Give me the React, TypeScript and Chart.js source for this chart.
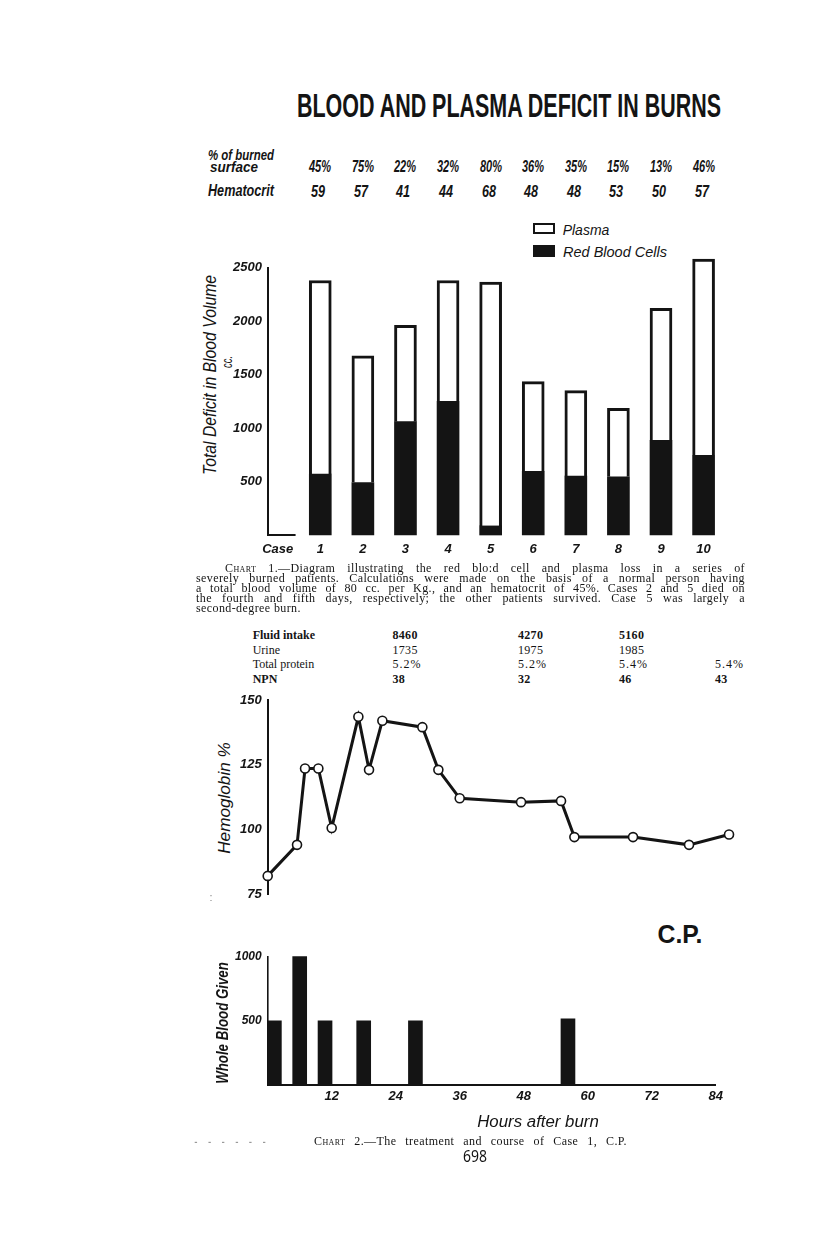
import React, { useEffect, useRef } from "react";
import { Chart, registerables } from "chart.js";
Chart.register(...registerables);

// ---------------- data ----------------
const caseLabels = ["Case", "1", "2", "3", "4", "5", "6", "7", "8", "9", "10"];
const burnedSurface = ["45%", "75%", "22%", "32%", "80%", "36%", "35%", "15%", "13%", "46%"];
const hematocrit = ["59", "57", "41", "44", "68", "48", "48", "53", "50", "57"];
const redCellDeficit = [570, 490, 1060, 1250, 85, 595, 550, 545, 885, 745];
const plasmaDeficit = [1810, 1185, 900, 1130, 2280, 840, 800, 640, 1235, 1835];
const deficitTicks = [500, 1000, 1500, 2000, 2500];

const hbHours = [0, 5.5, 7, 9.5, 12, 17, 19, 21.5, 29, 32, 36, 47.5, 55, 57.5, 68.5, 79, 86.5];
const hbValues = [82, 94, 123.5, 123.5, 100.5, 143.5, 123, 142, 139.5, 123, 112, 110.5, 111, 97, 97, 94, 98];
const hbTicks = [75, 100, 125, 150];

const bloodHours = [1.25, 6, 10.75, 18, 27.7, 56.3];
const bloodGiven = [500, 1000, 500, 500, 500, 515];
const bloodTicks = [500, 1000];
const hourTicks = [12, 24, 36, 48, 60, 72, 84];

const tableLabels = ["Fluid intake", "Urine", "Total protein", "NPN"];
const fluidIntake = ["8460", "4270", "5160", ""];
const urine = ["1735", "1975", "1985", ""];
const totalProtein = ["5.2%", "5.2%", "5.4%", "5.4%"];
const npn = ["38", "32", "46", "43"];

const captionLines = [
  "Diagram illustrating the red blo:d cell and plasma loss in a series of",
  "severely burned patients. Calculations were made on the basis of a normal person having",
  "a total blood volume of 80 cc. per Kg., and an hematocrit of 45%. Cases 2 and 5 died on",
  "the fourth and fifth days, respectively; the other patients survived. Case 5 was largely a",
  "second-degree burn.",
];

// ---------------- style ----------------
const INK = "#141414";
const LETTER = "'Liberation Sans', Arial, sans-serif";
const SERIF = "'Liberation Serif', 'Times New Roman', serif";
const tickFont = { family: LETTER, size: 13, style: "italic" as const, weight: "bold" as const };

// chart 1 horizontal layout (case index -> px), shared with header text
const CASE_MIN = -0.23;
const CASE_MAX = 10.35;
const C1_LEFT = 190, C1_TOP = 215, C1_W = 540, C1_H = 350;
const C1_AREA_L = 267.9, C1_AREA_R = 718.5;
const caseX = (i: number) => C1_AREA_L + ((i - CASE_MIN) / (CASE_MAX - CASE_MIN)) * (C1_AREA_R - C1_AREA_L);

let measureCtx: CanvasRenderingContext2D | null = null;
function measure(text: string, font: string) {
  if (!measureCtx) measureCtx = document.createElement("canvas").getContext("2d");
  measureCtx!.font = font;
  return measureCtx!.measureText(text).width || 1;
}

function FitText(props: { text: string; cx: number; cy: number; width: number; font: string; rotate?: number; color?: string }) {
  const { text, cx, cy, width, font, rotate = 0, color = INK } = props;
  const s = width / measure(text, font);
  return (
    <div
      style={{
        position: "absolute",
        left: cx,
        top: cy,
        font,
        lineHeight: 1,
        color,
        whiteSpace: "nowrap",
        transform: `translate(-50%, -50%) rotate(${rotate}deg) scaleX(${s})`,
      }}
    >
      {text}
    </div>
  );
}

function ChartBox(props: { left: number; top: number; width: number; height: number; make: () => any }) {
  const ref = useRef<HTMLCanvasElement>(null);
  useEffect(() => {
    const chart = new Chart(ref.current!, props.make());
    return () => chart.destroy();
  }, []);
  return (
    <canvas
      ref={ref}
      width={props.width}
      height={props.height}
      style={{ position: "absolute", left: props.left, top: props.top, width: props.width, height: props.height }}
    />
  );
}

const caseBaselineStub = {
  id: "caseBaselineStub",
  afterDraw(chart: any) {
    const { ctx, scales } = chart;
    const x = scales.x, y = scales.y;
    ctx.save();
    ctx.strokeStyle = INK;
    ctx.lineWidth = 2;
    ctx.beginPath();
    ctx.moveTo(x.left, y.getPixelForValue(0));
    ctx.lineTo(x.getPixelForValue(0.42), y.getPixelForValue(0));
    ctx.stroke();
    ctx.restore();
  },
};

function makeDeficitChart() {
  return {
    type: "bar",
    data: {
      datasets: [
        {
          label: "Red Blood Cells",
          data: redCellDeficit.map((v, i) => ({ x: i + 1, y: v })),
          backgroundColor: INK,
          borderColor: INK,
          borderWidth: 0,
          barThickness: 22,
          clip: false,
        },
        {
          label: "Plasma",
          data: plasmaDeficit.map((v, i) => ({ x: i + 1, y: v })),
          backgroundColor: "#ffffff",
          borderColor: INK,
          borderWidth: 3,
          barThickness: 22,
          clip: false,
        },
      ],
    },
    options: {
      responsive: false,
      animation: false,
      devicePixelRatio: 1,
      layout: { padding: { top: 267.7 - C1_TOP, right: C1_LEFT + C1_W - C1_AREA_R, left: 0, bottom: 0 } },
      plugins: { legend: { display: false }, tooltip: { enabled: false } },
      scales: {
        x: {
          type: "linear",
          min: CASE_MIN,
          max: CASE_MAX,
          stacked: true,
          offset: false,
          grid: { display: false, drawTicks: false },
          border: { display: false },
          ticks: { padding: 7, color: INK, font: tickFont, autoSkip: false, maxRotation: 0, callback: (v: number) => caseLabels[Math.round(v)] },
          afterBuildTicks: (s: any) => { s.ticks = caseLabels.map((_, i) => ({ value: i })); },
          afterFit: (s: any) => { s.height = 30; s.paddingLeft = 0; s.paddingRight = 0; },
        },
        y: {
          type: "linear",
          min: 0,
          max: 2500,
          stacked: true,
          grid: { display: false, drawTicks: false },
          border: { display: true, color: INK, width: 2 },
          ticks: { padding: 6, color: INK, font: tickFont, callback: (v: number) => String(v) },
          afterBuildTicks: (s: any) => { s.ticks = deficitTicks.map((v) => ({ value: v })); },
          afterFit: (s: any) => { s.width = C1_AREA_L - C1_LEFT; s.paddingTop = 0; s.paddingBottom = 0; },
        },
      },
    },
    plugins: [caseBaselineStub],
  };
}

const HOUR_PX = 448 / 84;
const AXIS_X = 267.7;

function makeHbChart() {
  const left = 190, width = 560, hMax = 88;
  return {
    type: "line",
    data: {
      datasets: [
        {
          data: hbHours.map((h, i) => ({ x: h, y: hbValues[i] })),
          borderColor: INK,
          borderWidth: 3,
          pointRadius: 4.5,
          pointBackgroundColor: "#ffffff",
          pointBorderColor: INK,
          pointBorderWidth: 1.6,
          tension: 0,
          clip: false,
        },
      ],
    },
    options: {
      responsive: false,
      animation: false,
      devicePixelRatio: 1,
      layout: { padding: { top: 10, right: left + width - (AXIS_X + hMax * HOUR_PX), bottom: 11, left: 0 } },
      plugins: { legend: { display: false }, tooltip: { enabled: false } },
      scales: {
        x: { type: "linear", display: false, min: 0, max: hMax },
        y: {
          type: "linear",
          min: 75,
          max: 150,
          grid: { display: false, drawTicks: false },
          border: { display: true, color: INK, width: 2 },
          ticks: { padding: 6, color: INK, font: tickFont, callback: (v: number) => String(v) },
          afterBuildTicks: (s: any) => { s.ticks = hbTicks.map((v) => ({ value: v })); },
          afterFit: (s: any) => { s.width = AXIS_X - left; s.paddingTop = 0; s.paddingBottom = 0; },
        },
      },
    },
  };
}

function makeBloodChart() {
  const left = 190, width = 540;
  return {
    type: "bar",
    data: {
      datasets: [
        {
          data: bloodHours.map((h, i) => ({ x: h, y: bloodGiven[i] })),
          backgroundColor: INK,
          borderWidth: 0,
          barThickness: 14,
          clip: false,
        },
      ],
    },
    options: {
      responsive: false,
      animation: false,
      devicePixelRatio: 1,
      layout: { padding: { top: 16.7, right: left + width - (AXIS_X + 84 * HOUR_PX), bottom: 0, left: 0 } },
      plugins: { legend: { display: false }, tooltip: { enabled: false } },
      scales: {
        x: {
          type: "linear",
          min: 0,
          max: 84,
          offset: false,
          grid: { display: false, drawTicks: false },
          border: { display: true, color: INK, width: 2 },
          ticks: { padding: 4, color: INK, font: tickFont, autoSkip: false, maxRotation: 0, callback: (v: number) => String(v) },
          afterBuildTicks: (s: any) => { s.ticks = hourTicks.map((v) => ({ value: v })); },
          afterFit: (s: any) => { s.height = 25; s.paddingLeft = 0; s.paddingRight = 0; },
        },
        y: {
          type: "linear",
          min: 0,
          max: 1000,
          grid: { display: false, drawTicks: false },
          border: { display: true, color: INK, width: 1.6 },
          ticks: { padding: 6, color: INK, font: { ...tickFont, size: 12 }, callback: (v: number) => String(v) },
          afterBuildTicks: (s: any) => { s.ticks = bloodTicks.map((v) => ({ value: v })); },
          afterFit: (s: any) => { s.width = AXIS_X - left; s.paddingTop = 0; s.paddingBottom = 0; },
        },
      },
    },
  };
}

function CaptionLine(props: { left: number; width: number; cy: number; justify: boolean; children: any }) {
  return (
    <div
      style={{
        position: "absolute",
        left: props.left,
        top: props.cy - 7,
        width: props.width,
        fontFamily: SERIF,
        fontSize: 12,
        lineHeight: "14px",
        letterSpacing: "0.4px",
        color: INK,
        textAlign: props.justify ? "justify" : "left",
        textAlignLast: props.justify ? "justify" : "left",
      }}
    >
      {props.children}
    </div>
  );
}

export default function App() {
  const capY = [567.5, 578, 588, 598, 608];
  const rowY = [635, 649.5, 664, 678.5];
  const colX = [392.5, 518, 619, 715];
  const tableRows = [fluidIntake, urine, totalProtein, npn];
  const boldRow = [true, false, false, true];

  return (
    <div style={{ position: "absolute", left: 0, top: 0, width: 816, height: 1238, background: "#ffffff", overflow: "hidden" }}>
      {/* title */}
      <FitText text="BLOOD AND PLASMA DEFICIT IN BURNS" cx={509.2} cy={105} width={425.6} font={`bold 33px ${LETTER}`} />

      {/* header rows */}
      <FitText text="% of burned" cx={240.9} cy={153.5} width={66} font={`italic bold 15px ${LETTER}`} />
      <FitText text="surface" cx={233.8} cy={165.5} width={48} font={`italic bold 15px ${LETTER}`} />
      <FitText text="Hematocrit" cx={241} cy={191} width={66} font={`italic bold 16px ${LETTER}`} />
      {burnedSurface.map((t, i) => (
        <FitText key={"b" + i} text={t} cx={caseX(i + 1)} cy={166} width={22} font={`italic bold 17px ${LETTER}`} />
      ))}
      {hematocrit.map((t, i) => (
        <FitText key={"h" + i} text={t} cx={caseX(i + 1) - 2} cy={190.5} width={14} font={`italic bold 17px ${LETTER}`} />
      ))}

      {/* legend */}
      <div style={{ position: "absolute", left: 533, top: 222.5, width: 22, height: 11.5, border: `2px solid ${INK}`, boxSizing: "border-box", background: "#fff" }} />
      <FitText text="Plasma" cx={586.3} cy={229} width={46.6} font={`italic 15px ${LETTER}`} />
      <div style={{ position: "absolute", left: 533, top: 245, width: 22, height: 12, background: INK }} />
      <FitText text="Red Blood Cells" cx={615} cy={250.5} width={104} font={`italic 15px ${LETTER}`} />

      {/* chart 1 */}
      <FitText text="Total Deficit in Blood Volume" cx={208.8} cy={375} width={200} font={`italic 19px ${LETTER}`} rotate={-90} />
      <FitText text="cc." cx={226.5} cy={361.7} width={12} font={`italic 14px ${LETTER}`} rotate={-90} />
      <ChartBox left={C1_LEFT} top={C1_TOP} width={C1_W} height={C1_H} make={makeDeficitChart} />

      {/* caption 1 */}
      <CaptionLine left={225} width={520} cy={capY[0]} justify={true}>
        <span style={{ fontVariant: "small-caps" }}>Chart</span> 1.—{captionLines[0]}
      </CaptionLine>
      {captionLines.slice(1).map((t, i) => (
        <CaptionLine key={"c" + i} left={196} width={549} cy={capY[i + 1]} justify={i < 3}>
          {t}
        </CaptionLine>
      ))}

      {/* table */}
      {tableLabels.map((lab, r) => (
        <div key={"tl" + r} style={{ position: "absolute", left: 252.7, top: rowY[r] - 7, fontFamily: SERIF, fontSize: 12, lineHeight: "14px", fontWeight: boldRow[r] ? "bold" : "normal", color: INK, whiteSpace: "nowrap" }}>
          {lab}
        </div>
      ))}
      {tableRows.map((row, r) =>
        row.map((v, c) => (
          <div key={"tv" + r + c} style={{ position: "absolute", left: colX[c], top: rowY[r] - 7, fontFamily: SERIF, fontSize: 12, lineHeight: "14px", fontWeight: boldRow[r] ? "bold" : "normal", letterSpacing: r === 2 ? "1px" : "0.3px", color: INK, whiteSpace: "nowrap" }}>
            {v}
          </div>
        ))
      )}

      {/* chart 2: hemoglobin */}
      <FitText text="Hemoglobin %" cx={224} cy={797.5} width={111.6} font={`italic 17px ${LETTER}`} rotate={-90} />
      <ChartBox left={190} top={690} width={560} height={215} make={makeHbChart} />
      <FitText text=":" cx={211} cy={898} width={3} font={`10px ${LETTER}`} color="#888" />

      {/* C.P. */}
      <FitText text="C.P." cx={680} cy={934} width={45} font={`bold 26px ${LETTER}`} />

      {/* chart 3: whole blood */}
      <FitText text="Whole Blood Given" cx={222} cy={1022.5} width={121.6} font={`italic bold 17px ${LETTER}`} rotate={-90} />
      <ChartBox left={190} top={940} width={540} height={170} make={makeBloodChart} />
      <FitText text="Hours after burn" cx={537.5} cy={1121.7} width={121.6} font={`italic 16px ${LETTER}`} />

      {/* caption 2 and page number */}
      <FitText text=". . . . . ." cx={230} cy={1140} width={75} font={`10px ${LETTER}`} color="#999" />
      <CaptionLine left={314} width={313} cy={1140.5} justify={true}>
        <span style={{ fontVariant: "small-caps" }}>Chart</span> 2.—The treatment and course of Case 1, C.P.
      </CaptionLine>
      <FitText text="698" cx={475} cy={1155} width={24} font={`17px 'Noto Sans', sans-serif`} />
    </div>
  );
}
